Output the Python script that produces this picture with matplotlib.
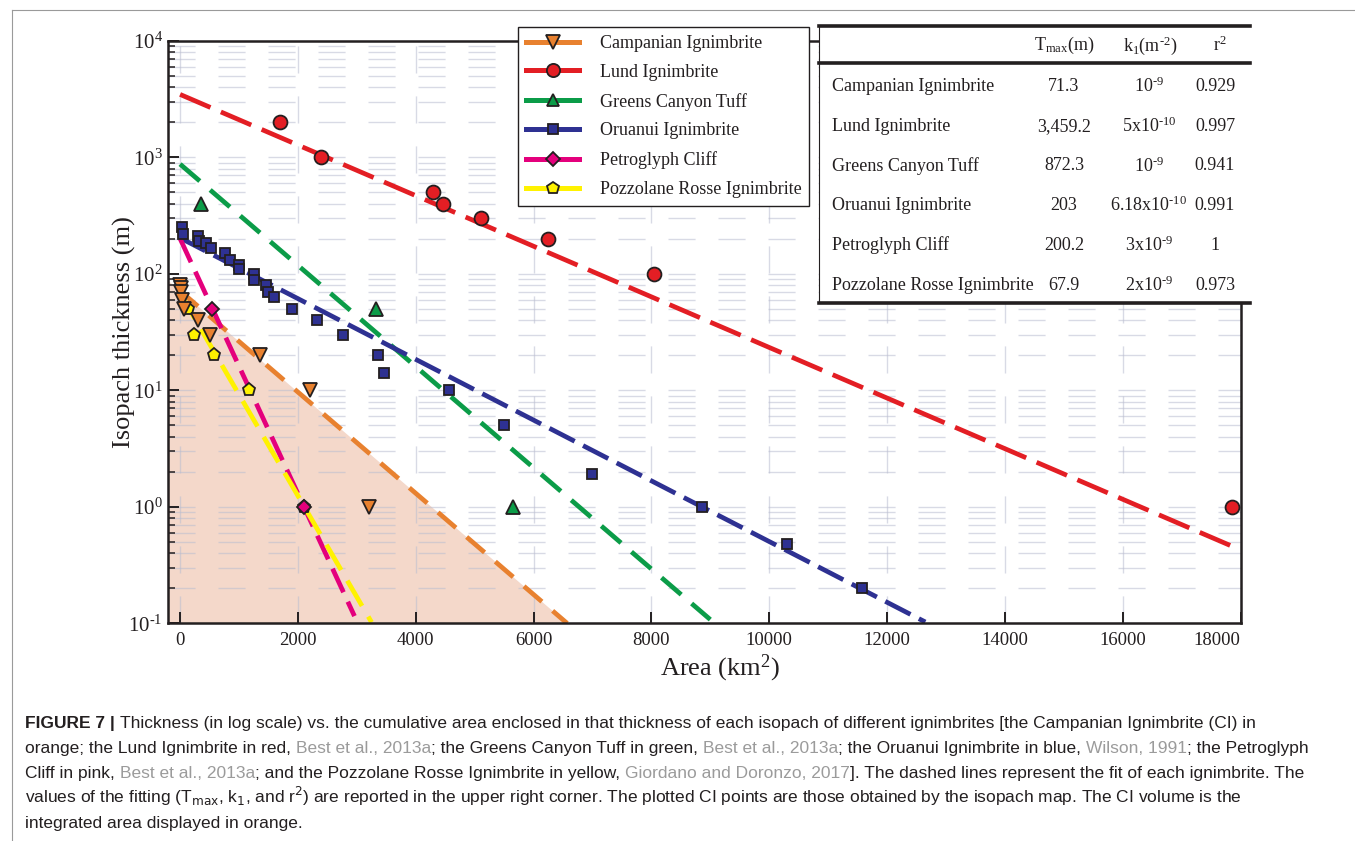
import numpy as np
import matplotlib
matplotlib.use("Agg")
import matplotlib.pyplot as plt
from matplotlib.lines import Line2D
from matplotlib.patches import Rectangle
from matplotlib.ticker import LogLocator, NullFormatter, FixedLocator

# ---- data (area in km2, thickness in m) ----
names = ["Campanian Ignimbrite", "Lund Ignimbrite", "Greens Canyon Tuff",
         "Oruanui Ignimbrite", "Petroglyph Cliff", "Pozzolane Rosse Ignimbrite"]

ci_area = [0, 20, 10, 30, 60, 300, 500, 1350, 2200, 3200]
ci_thick = [80, 75, 70, 60, 50, 40, 30, 20, 10, 1]

lund_area = [1700, 2400, 4300, 4470, 5100, 6250, 8050, 17850]
lund_thick = [2000, 1000, 500, 400, 300, 200, 100, 1]

greens_area = [360, 3330, 5650]
greens_thick = [400, 50, 1]

oru_area = [40, 50, 300, 320, 440, 530, 760, 850, 1000, 1000, 1250, 1250, 1450,
            1500, 1600, 1900, 2320, 2770, 3360, 3460, 4560, 5500, 7000, 8860,
            10310, 11570]
oru_thick = [250, 220, 210, 190, 185, 165, 150, 130, 120, 110, 100, 88, 80,
             70, 63, 50, 40, 30, 20, 14, 10, 5, 1.9, 1.0, 0.48, 0.2]

petro_area = [540, 2100]
petro_thick = [50, 1]

pozz_area = [130, 240, 570, 1170, 2100]
pozz_thick = [50, 30, 20, 10, 1]

# exponential fits T = Tmax * exp(-k * A), as drawn
fit_tmax = [71.3, 3459.2, 872.3, 203, 200.2, 67.9]
fit_k = [1.0e-3, 5.0e-4, 1.0e-3, 6.0e-4, 2.52e-3, 2.0e-3]   # per km2
fit_end = [6570, 17850, 9000, 12650, 2960, 3250]

# table text
tab_tmax = ["71.3", "3,459.2", "872.3", "203", "200.2", "67.9"]
tab_k1 = [r"10$^{\text{-}9}$", r"5x10$^{\text{-}10}$", r"10$^{\text{-}9}$",
          r"6.18x10$^{\text{-}10}$", r"3x10$^{\text{-}9}$", r"2x10$^{\text{-}9}$"]
tab_r2 = ["0.929", "0.997", "0.941", "0.991", "1", "0.973"]

colors = ["#e8812f", "#e31e24", "#0b9c48", "#2e3192", "#e4007c", "#fff200"]
markers = ["v", "o", "^", "s", "D", "p"]
msizes = [10, 10, 9.5, 7.8, 7.2, 9.5]
dashes = [(5.0, 3.0), (7.0, 2.4), (5.5, 2.9), (6.0, 2.0), (5.5, 2.2), (6.2, 2.6)]
shade = "#f4d8ca"

plt.rcParams["font.family"] = ["Liberation Serif", "DejaVu Serif"]
plt.rcParams["mathtext.fontset"] = "custom"
plt.rcParams["mathtext.rm"] = "Liberation Serif"
plt.rcParams["mathtext.it"] = "Liberation Serif:italic"
plt.rcParams["mathtext.bf"] = "Liberation Serif:bold"

W, H = 1355, 841


def fx(px):
    return px / W


def fy(py):
    return 1 - py / H


fig = plt.figure(figsize=(W / 100, H / 100), dpi=100)
L, R, T, B = 168.3, 1240.5, 40.7, 623.3
ax = fig.add_axes([fx(L), fy(B), fx(R) - fx(L), fy(T) - fy(B)])
ax.set_yscale("log")
ax.set_xlim(-200, 18000)
ax.set_ylim(0.1, 1e4)

# CI volume shading under the Campanian fit
xs = np.linspace(-200, fit_end[0], 400)
ax.fill_between(xs, 0.1, fit_tmax[0] * np.exp(-fit_k[0] * xs), color=shade,
                lw=0, zorder=0.4)

# grid
ax.set_axisbelow(True)
gstyle = dict(color="#b9bdd0", alpha=0.55, lw=1.0, ls=(0, (19.5, 16.5)))
ax.grid(which="major", axis="x", **gstyle)
ax.grid(which="both", axis="y", **gstyle)

# fitted dashed lines
for i in range(6):
    xx = np.linspace(0, fit_end[i], 400)
    ax.plot(xx, fit_tmax[i] * np.exp(-fit_k[i] * xx), color=colors[i], lw=3.4,
            ls=(0, dashes[i]), zorder=2)

# data points
pts = [(ci_area, ci_thick), (lund_area, lund_thick), (greens_area, greens_thick),
       (oru_area, oru_thick), (petro_area, petro_thick), (pozz_area, pozz_thick)]
for i in [5, 4, 0, 2, 3, 1]:
    xa, ya = pts[i]
    ax.plot(xa, ya, ls="none", marker=markers[i], ms=msizes[i], mfc=colors[i],
            mec="#231f20", mew=1.3, zorder=3)

# axes styling
for s in ax.spines.values():
    s.set_linewidth(1.8)
    s.set_color("#231f20")
ax.xaxis.set_major_locator(FixedLocator(np.arange(0, 18001, 2000)))
ax.yaxis.set_major_locator(LogLocator(base=10))
ax.yaxis.set_minor_locator(LogLocator(base=10, subs=np.arange(2, 10)))
ax.yaxis.set_minor_formatter(NullFormatter())
ax.yaxis.set_major_formatter(plt.FuncFormatter(
    lambda v, p: r"$10^{%s}$" % (r"\text{-}1" if v < 0.5 else "%d" % round(np.log10(v)))))
ax.tick_params(which="major", direction="in", length=8, width=1.4,
               colors="#231f20", pad=6)
ax.tick_params(axis="x", labelsize=13.5)
ax.tick_params(axis="y", labelsize=15, pad=4)
ax.tick_params(which="minor", direction="in", length=5, width=1.1,
               colors="#231f20")
ax.tick_params(axis="x", which="both", top=False)
ax.tick_params(axis="y", which="both", right=False)
fig.canvas.draw()
ax.get_xticklabels()[-1].set_ha("right")

ax.set_xlabel("Area (km$^2$)", fontsize=19, color="#231f20")
ax.xaxis.set_label_coords((720 - L) / (R - L), (B - 668) / (B - T))
ax.xaxis.label.set_va("center")
ax.set_ylabel("Isopach thickness (m)", fontsize=19, color="#231f20")
ax.yaxis.set_label_coords((124 - L) / (R - L), 0.5)
ax.yaxis.label.set_va("center")

# legend
handles = [Line2D([], [], color=colors[i], lw=3.6, marker=markers[i],
                  ms=msizes[i] - 0.5, mfc=colors[i], mec="#231f20", mew=1.3)
           for i in range(6)]
leg = ax.legend(handles, names, loc="upper left",
                bbox_to_anchor=(fx(518.3), fy(26.7)), bbox_transform=fig.transFigure,
                fontsize=13, frameon=True, fancybox=False, framealpha=1,
                edgecolor="#231f20", handlelength=2.9, handletextpad=1.15,
                labelspacing=0.66, borderpad=0.45, borderaxespad=0)
leg.get_frame().set_linewidth(1.0)
for t in leg.get_texts():
    t.set_color("#231f20")

# parameter table
fig.add_artist(Rectangle((fx(818.5), fy(303.3)), fx(1250) - fx(818.5),
                         fy(25.7) - fy(303.3), transform=fig.transFigure,
                         facecolor="white", edgecolor="none", zorder=5))
for yy, lw in [(25.7, 2.6), (63.3, 2.6), (303.3, 2.6)]:
    fig.add_artist(Line2D([fx(818.5), fx(1250)], [fy(yy), fy(yy)],
                          transform=fig.transFigure, color="#231f20", lw=lw,
                          zorder=6))
fig.add_artist(Line2D([fx(818.5), fx(818.5)], [fy(25.7), fy(303.3)],
                      transform=fig.transFigure, color="#231f20", lw=0.8, zorder=6))
tkw = dict(fontsize=13, color="#231f20", va="center", zorder=7)
fig.text(fx(1064), fy(45.5), r"T$_{\mathrm{max}}$(m)", ha="center", **tkw)
fig.text(fx(1150), fy(45.5), r"k$_{1}$(m$^{\text{-}2}$)", ha="center", **tkw)
fig.text(fx(1220), fy(45.5), r"r$^{2}$", ha="center", **tkw)
row_y = [86.5, 126.5, 166, 205.5, 245, 285]
for i in range(6):
    fig.text(fx(831.7), fy(row_y[i]), names[i], ha="left", **tkw)
    fig.text(fx(1064), fy(row_y[i]), tab_tmax[i], ha="center", **tkw)
    fig.text(fx(1149), fy(row_y[i]), tab_k1[i], ha="center", **tkw)
    fig.text(fx(1215), fy(row_y[i]), tab_r2[i], ha="center", **tkw)

# frame lines of the page
fig.add_artist(Line2D([fx(12), 1], [fy(10), fy(10)], transform=fig.transFigure,
                      color="#9a9a9a", lw=0.8))
fig.add_artist(Line2D([fx(12), fx(12)], [fy(10), 0], transform=fig.transFigure,
                      color="#9a9a9a", lw=0.8))

# caption
cap_font = ["Liberation Sans Narrow", "Liberation Sans", "DejaVu Sans"]
dark, grey = "#231f20", "#9b9b9b"
cap_lines = [
    [("FIGURE 7 | ", dark, "bold"),
     ("Thickness (in log scale) vs. the cumulative area enclosed in that thickness of each "
      "isopach of different ignimbrites [the Campanian Ignimbrite (CI) in", dark, "normal")],
    [("orange; the Lund Ignimbrite in red, ", dark, "normal"),
     ("Best et al., 2013a", grey, "normal"),
     ("; the Greens Canyon Tuff in green, ", dark, "normal"),
     ("Best et al., 2013a", grey, "normal"),
     ("; the Oruanui Ignimbrite in blue, ", dark, "normal"),
     ("Wilson, 1991", grey, "normal"),
     ("; the Petroglyph", dark, "normal")],
    [("Cliff in pink, ", dark, "normal"),
     ("Best et al., 2013a", grey, "normal"),
     ("; and the Pozzolane Rosse Ignimbrite in yellow, ", dark, "normal"),
     ("Giordano and Doronzo, 2017", grey, "normal"),
     ("]. The dashed lines represent the fit of each ignimbrite. The", dark, "normal")],
    [(r"values of the fitting (T$_{\mathrm{max}}$, k$_{1}$, and r$^{2}$) are reported in "
      "the upper right corner. The plotted CI points are those obtained by the isopach "
      "map. The CI volume is the", dark, "normal")],
    [("integrated area displayed in orange.", dark, "normal")],
]
cap_y = [723, 748, 773, 798, 823]
for line, yy in zip(cap_lines, cap_y):
    prev = None
    for txt, col, wt in line:
        kw = dict(fontsize=12.5, color=col, fontweight=wt, family=cap_font,
                  math_fontfamily="dejavusans", va="baseline", ha="left")
        if prev is None:
            prev = fig.text(fx(25), fy(yy + 5), txt, **kw)
        else:
            prev = ax.annotate(txt, xy=(1, 0), xycoords=prev, annotation_clip=False,
                               **kw)
            prev.set_va("bottom")

fig.savefig("out.png", dpi=100)
